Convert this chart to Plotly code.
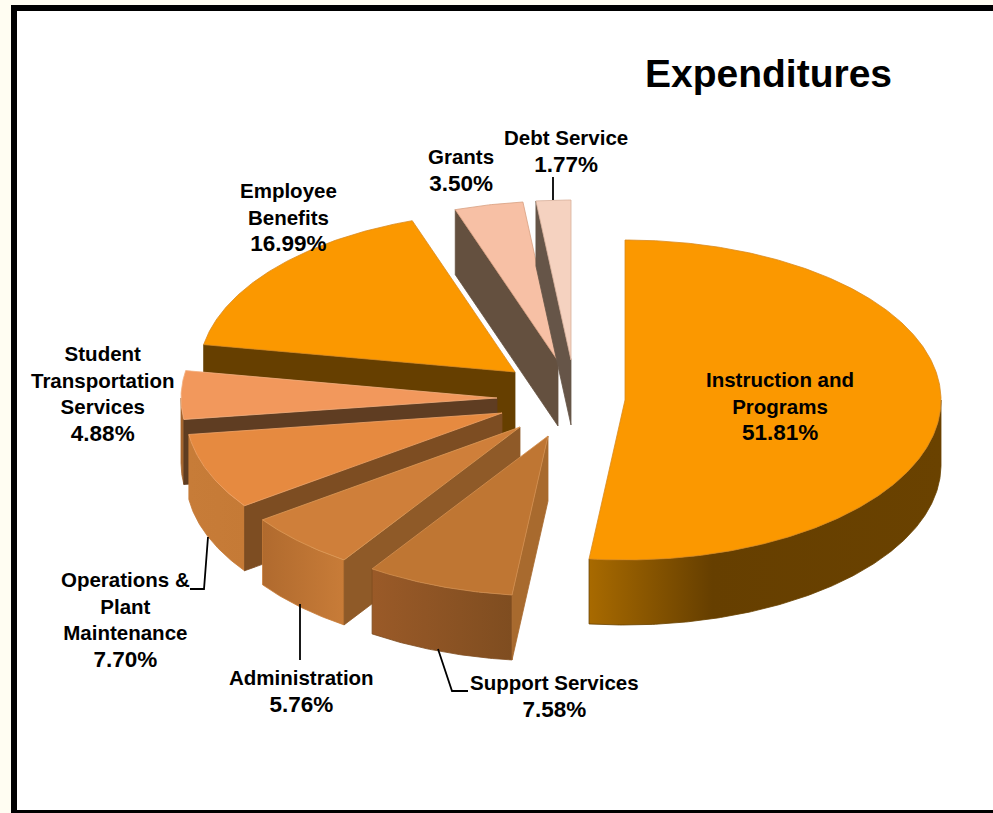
import numpy as np
import plotly.graph_objects as go

categories = ["Instruction and<br>Programs", "Support Services", "Administration",
              "Operations &<br>Plant<br>Maintenance", "Student<br>Transportation<br>Services",
              "Employee<br>Benefits", "Grants", "Debt Service"]
values = [51.81, 7.58, 5.76, 7.70, 4.88, 16.99, 3.50, 1.77]

# Exploded-pie layout (pixel space of the hidden axes)
APEX = [(625, 400), (548, 436), (520, 427), (502, 413), (497, 398), (515, 372), (558, 361), (571, 360)]
RX, RY, DEPTH = 316, 160, 65
TOP = ["#FB9800", "#BF7633", "#CF7F3A", "#E68A40", "#F2985C", "#FB9800", "#F7C0A5", "#F5D2C0"]
CUT = ["#663F00", "#A86A2E", "#8F5A28", "#7D4D22", "#5F3D22", "#663F00", "#64503F", "#665548"]
OUTER = [
    [[0, "#A86A00"], [0.35, "#663F00"], [1, "#6A4200"]],
    [[0, "#9A5A28"], [1, "#7F4D20"]],
    [[0, "#B06A2E"], [1, "#C87C38"]],
    [[0, "#C77C38"], [1, "#C57A36"]],
    [[0, "#A5652E"], [1, "#A5652E"]],
    [[0, "#663F00"], [1, "#663F00"]],
    [[0, "#64503F"], [1, "#64503F"]],
    [[0, "#665548"], [1, "#665548"]],
]
EDGE = ["#D98A20", "#D49050", "#DD9A58", "#F0A468", "#F4B080", "#D98A20", "#D8A080", "#D8B09A"]
ORDER = [5, 4, 3, 2, 1, 0, 6, 7]
LABEL_POS = [(780, 406), (554, 696), (301, 691), (125, 620), (103, 394), (288, 217), (461, 170), (566, 151)]
LEADERS = [
    [(553, 177), (553, 200)],
    [(190, 589), (204, 589), (208, 537)],
    [(300, 660), (300, 604)],
    [(468, 691), (452, 691), (438, 649)],
]

total = sum(values)
ends = np.cumsum(values) / total * 360
starts = np.concatenate([[0], ends[:-1]])


def arc(apex, a0, a1):
    t = np.radians(np.linspace(a0, a1, max(int(abs(a1 - a0) * 2), 2)))
    return apex[0] + RX * np.sin(t), apex[1] - RY * np.cos(t)


fig = go.Figure()


def poly(x, y, color, name, edge=None, gradient=None):
    kw = dict(fillgradient=gradient) if gradient else dict(fillcolor=color)
    fig.add_trace(go.Scatter(
        x=list(x), y=list(y), mode="lines", fill="toself", name=name,
        line=dict(color=edge or color, width=0.8), hoverinfo="name", showlegend=False, **kw))


for i in ORDER:
    name = f"{categories[i].replace('<br>', ' ')} {values[i]:.2f}%"
    apex, a0, a1 = APEX[i], starts[i], ends[i]
    ox, oy = arc(apex, a0, a1)
    # outer rim: only the part facing the viewer
    w0, w1 = max(a0, 90), min(a1, 270)
    if w1 > w0:
        rx, ry = arc(apex, w0, w1)
        poly(np.r_[rx, rx[::-1], rx[0]], np.r_[ry, ry[::-1] + DEPTH, ry[0]], OUTER[i][0][1], name,
             edge=OUTER[i][-1][1], gradient=dict(type="horizontal", colorscale=OUTER[i]))
    # cut face along the slice's first edge
    if a0 > 0:
        ex, ey = ox[0], oy[0]
        poly([apex[0], ex, ex, apex[0], apex[0]],
             [apex[1], ey, ey + DEPTH, apex[1] + DEPTH, apex[1]], CUT[i], name)
    # top face
    poly(np.r_[apex[0], ox, apex[0]], np.r_[apex[1], oy, apex[1]], TOP[i], name, edge=EDGE[i])

# Leader lines
for pts in LEADERS:
    fig.add_trace(go.Scatter(x=[p[0] for p in pts], y=[p[1] for p in pts], mode="lines",
                             line=dict(color="black", width=1.8), hoverinfo="skip", showlegend=False))

FONT = "Liberation Sans"
for cat, val, (x, y) in zip(categories, values, LABEL_POS):
    fig.add_annotation(x=x, y=y,
                       text=f'<b>{cat}<br><span style="font-size:22.5px">{val:.2f}%</span></b>',
                       showarrow=False, xanchor="center", yanchor="middle", align="center",
                       font=dict(family=FONT, size=20.5, color="black"))

fig.add_annotation(x=768, y=73, text="<b>Expenditures</b>", showarrow=False, xanchor="center", yanchor="middle",
                   font=dict(family=FONT, size=39, color="black"))

fig.add_shape(type="rect", x0=14, y0=8, x1=1010, y1=813, layer="below",
              line=dict(color="black", width=6), fillcolor="white")

fig.update_layout(
    width=993, height=813, margin=dict(l=0, r=0, t=0, b=0),
    paper_bgcolor="#FFFDF2", plot_bgcolor="rgba(0,0,0,0)", showlegend=False,
    xaxis=dict(range=[0, 993], visible=False, fixedrange=True),
    yaxis=dict(range=[813, 0], visible=False, fixedrange=True),
)
fig.write_html("out.html", config=dict(displayModeBar=False),
               post_script="document.body.style.margin='0';document.body.style.overflow='hidden';")
